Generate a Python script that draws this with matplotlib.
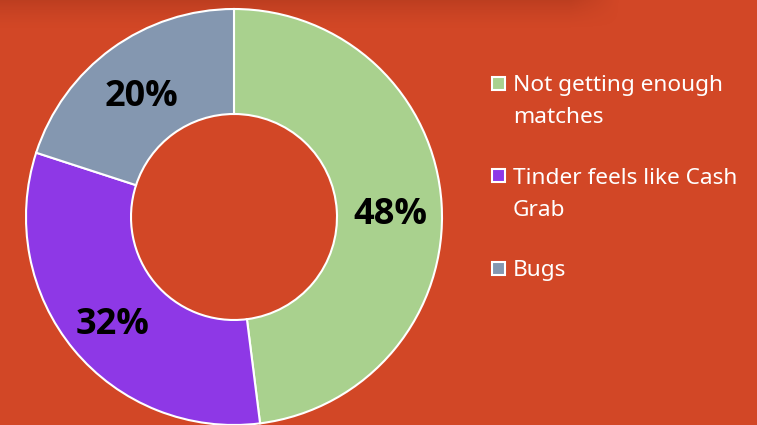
import matplotlib
matplotlib.use("Agg")
import matplotlib.pyplot as plt
import numpy as np
from matplotlib.patches import Rectangle
from matplotlib import font_manager as fm

categories = ["Not getting enough\nmatches", "Tinder feels like Cash\nGrab", "Bugs"]
values = [48, 32, 20]
colors = ["#A9D18E", "#8E38E6", "#8497B0"]
bg = "#D24726"

# pick a regular-width bold Open Sans face if available
bold_fp = fm.FontProperties(family="Open Sans", weight="bold")
cands = [f for f in fm.fontManager.ttflist
         if f.name == "Open Sans" and f.weight in (700, "bold") and f.stretch == "normal"
         and "Condensed" not in f.fname and "Italic" not in f.fname]
if cands:
    bold_fp = fm.FontProperties(fname=cands[0].fname)
bold_fp.set_size(26)

W, H = 757, 425
fig = plt.figure(figsize=(W / 100, H / 100), dpi=100, facecolor=bg)
ax = fig.add_axes([0, 0, 1, 1])
ax.set_facecolor(bg)

# subtle top shadow of the slide background
sh_h, sh_w = 30, 620
yy = np.linspace(0, 1, sh_h)[:, None]
xx = np.linspace(0, 1, sh_w)[None, :]
alpha = 0.22 * (1 - yy) ** 1.5 * np.clip((1 - xx) / 0.08, 0, 1)
shadow = np.zeros((sh_h, sh_w, 4))
shadow[..., 0] = 0.45
shadow[..., 1] = 0.12
shadow[..., 2] = 0.05
shadow[..., 3] = alpha
ax.imshow(shadow, extent=(0, sh_w, H - sh_h, H), origin="upper", aspect="auto",
          zorder=0, interpolation="bilinear")

R = 208
cx, cy = 234, H - 217
wedges, texts, autotexts = ax.pie(
    values, colors=colors, startangle=90, counterclock=False,
    center=(cx, cy), radius=R, autopct="%d%%", pctdistance=0.755,
    wedgeprops=dict(width=R - 103, edgecolor="white", linewidth=1.5, zorder=2),
    textprops=dict(color="black", zorder=3),
    frame=True,
)
for t in autotexts:
    t.set_fontproperties(bold_fp)
    x, y = t.get_position()
    t.set_verticalalignment("baseline")
    t.set_position((x, y - 16.5))
ax.set_xlim(0, W)
ax.set_ylim(0, H)
ax.axis("off")

# legend drawn manually so the marker aligns with the first line
base0 = 91
item_step = 92.5
line_step = 32
sq = 13
for i, (lab, c) in enumerate(zip(categories, colors)):
    b = base0 + i * item_step
    ax.add_patch(Rectangle((492, H - (b - 8) - sq / 2), sq, sq, facecolor=c,
                           edgecolor="white", linewidth=1.5, clip_on=False))
    for j, line in enumerate(lab.split("\n")):
        ax.text(513, H - (b + j * line_step), line, color="white",
                family="Noto Sans", fontsize=16.3, va="baseline", ha="left")

fig.savefig("out.png", dpi=100, facecolor=bg)
